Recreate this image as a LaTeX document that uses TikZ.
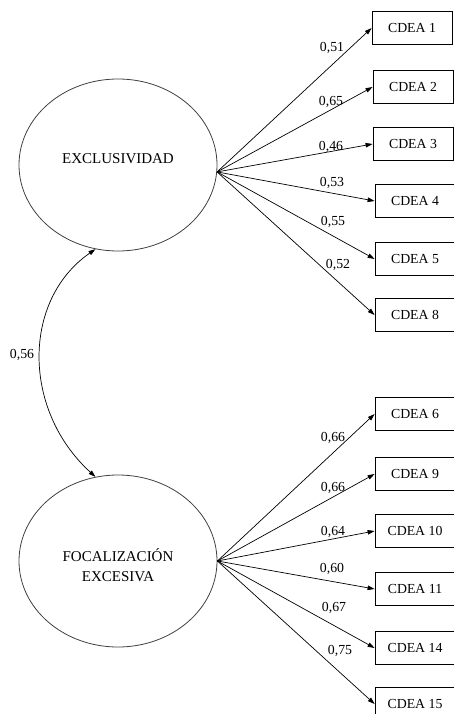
\documentclass[tikz,border=0pt]{standalone}
\usepackage{fontspec}
\setmainfont{Liberation Serif}
\usetikzlibrary{arrows.meta,shapes.geometric}
\newcommand{\itemfont}{\fontsize{13.8pt}{16pt}\selectfont}
\newcommand{\factorfont}{\fontsize{15pt}{20pt}\selectfont}
\tikzset{item/.style={draw,line width=0.8pt,minimum width=80pt,minimum height=33pt,inner sep=0pt,font=\itemfont},
  factor/.style={draw,black!75,line width=0.8pt,ellipse,minimum width=198pt,minimum height=172pt,inner sep=0pt},
  factxt/.style={black,inner sep=0pt,align=center,font=\factorfont},
  load/.style={-{Triangle[length=7pt,width=4.5pt]},line width=0.7pt},
  wt/.style={inner sep=0pt,font=\itemfont}}

\begin{document}
\begin{tikzpicture}[x=1pt,y=-1pt]
\useasboundingbox (0,0) rectangle (454,714);
% latent factors
\node[factor,label={[factxt,yshift=6pt]center:EXCLUSIVIDAD}] (excl) at (118,165) {};
\node[factor,label={[factxt,yshift=-4pt]center:FOCALIZACIÓN\\EXCESIVA}] (foc) at (118,561) {};
% indicators
\foreach \n/\t/\x/\y in {c1/CDEA 1/412/28,c2/CDEA 2/413/87,c3/CDEA 3/413/144,
  c4/CDEA 4/415/201,c5/CDEA 5/415/259,c8/CDEA 8/415/315,
  c6/CDEA 6/415/414,c9/CDEA 9/415/474,c10/CDEA 10/415/531,
  c11/CDEA 11/415/589,c14/CDEA 14/415/648,c15/CDEA 15/415/704}
  \node[item] (\n) at (\x,\y) {\t};
% loadings
\foreach \n in {c1,c2,c3,c4,c5,c8} \draw[load] (excl.-4) -- (\n.west);
\foreach \n in {c6,c9,c10,c11,c14,c15} \draw[load] (foc.east) -- (\n.west);
\foreach \n/\t/\x/\y in {l1/{0,51}/332/48,l2/{0,65}/331/102,l3/{0,46}/331/147,
  l4/{0,53}/332/183,l5/{0,55}/333/222,l8/{0,52}/338/265,
  l6/{0,66}/333/438,l9/{0,66}/333/488,l10/{0,64}/333/532,
  l11/{0,60}/332/569,l14/{0,67}/334/608,l15/{0,75}/340/651}
  \node[wt] (\n) at (\x,\y) {\t};
% correlation
\draw[{Triangle[length=7pt,width=4.5pt]}-{Triangle[length=7pt,width=4.5pt]},line width=0.7pt]
  (excl.255) .. controls (22,300) and (22,410) .. (foc.105);
\node[wt] (r) at (22,355) {0,56};
\end{tikzpicture}
\end{document}
